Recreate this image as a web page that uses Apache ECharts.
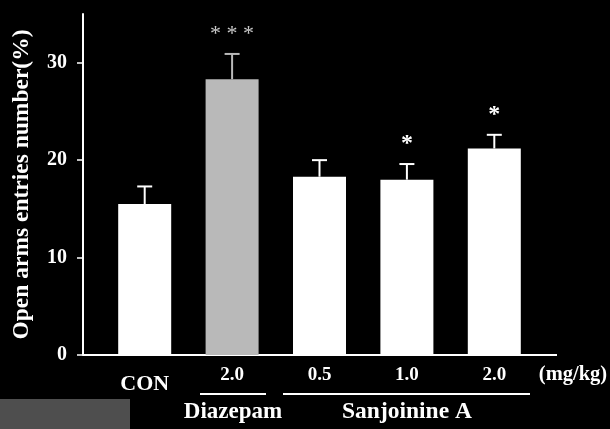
<!DOCTYPE html>
<html>
<head>
<meta charset="utf-8">
<script src="https://cdn.jsdelivr.net/npm/echarts@6/dist/echarts.min.js"></script>
<style>
  html, body { margin: 0; padding: 0; background: #000; }
  #chart { width: 610px; height: 429px; }
</style>
</head>
<body>
<div id="chart"></div>
<script>
const categories = ['CON', '2.0', '0.5', '1.0', '2.0']
const means = [15.5, 28.3, 18.3, 18.0, 21.2]
const errors = [1.8, 2.6, 1.7, 1.6, 1.4]
const stars = ['', '* * *', '', '*', '*']
const yTicks = [0, 10, 20, 30]

const serif = '"Liberation Serif", "DejaVu Serif", serif'

const chart = echarts.init(document.getElementById('chart'))

const barColor = (i) => (i === 1 ? '#b9b9b9' : '#ffffff')

const option = {
  backgroundColor: '#000',
  animation: false,
  grid: {
    left: 101,
    right: 72,
    top: 14,
    bottom: 74,
  },
  xAxis: {
    type: 'category',
    data: categories,
    axisLine: { show: false },
    axisTick: { show: false },
    axisLabel: {
      margin: 12,
      color: '#fff',
      fontFamily: serif,
      fontWeight: 'bold',
      formatter: (value, idx) => (idx === 0 ? '{big|' + value + '}' : '{small|' + value + '}'),
      rich: {
        big: { fontSize: 22, lineHeight: 34, fontFamily: serif, fontWeight: 'bold', color: '#fff' },
        small: { fontSize: 19, lineHeight: 16, fontFamily: serif, fontWeight: 'bold', color: '#fff' },
      },
    },
  },
  yAxis: {
    type: 'value',
    min: 0,
    max: 35,
    offset: 18,
    name: 'Open arms entries number(%)',
    nameLocation: 'middle',
    nameGap: 49,
    nameTextStyle: {
      color: '#fff',
      fontFamily: serif,
      fontWeight: 'bold',
      fontSize: 23.5,
    },
    axisLine: { show: true, lineStyle: { color: '#fff', width: 2 } },
    axisTick: { show: true, length: 6, lineStyle: { color: '#fff', width: 1.5 }, customValues: yTicks },
    axisLabel: {
      margin: 16,
      color: '#fff',
      fontFamily: serif,
      fontWeight: 'bold',
      fontSize: 20,
      customValues: yTicks,
    },
    splitLine: { show: false },
  },
  series: [
    {
      type: 'bar',
      data: means.map((v, i) => ({ value: v, itemStyle: { color: barColor(i) } })),
      barWidth: 53,
    },
    {
      type: 'custom',
      data: means.map((v, i) => [i, v, errors[i]]),
      renderItem: (params, api) => {
        const i = api.value(0)
        const mean = api.value(1)
        const err = api.value(2)
        const base = api.coord([i, mean])
        const top = api.coord([i, mean + err])
        const cap = 7.5
        const star = stars[i]
        const children = [
          {
            type: 'line',
            shape: { x1: base[0], y1: base[1], x2: top[0], y2: top[1] },
            style: { stroke: barColor(i), lineWidth: 2 },
          },
          {
            type: 'line',
            shape: { x1: top[0] - cap, y1: top[1], x2: top[0] + cap, y2: top[1] },
            style: { stroke: barColor(i), lineWidth: 2 },
          },
        ]
        if (star) {
          const multi = star.length > 1
          children.push({
            type: 'text',
            style: {
              x: top[0],
              y: top[1] - 20,
              text: star,
              fill: multi ? '#c8c8c8' : '#fff',
              font: (multi ? 'normal 22px ' : 'bold 24px ') + serif,
              align: 'center',
              verticalAlign: 'middle',
            },
          })
        }
        return { type: 'group', children }
      },
      z: 3,
    },
  ],
  graphic: [
    {
      type: 'line',
      shape: { x1: 83, y1: 355, x2: 557, y2: 355 },
      style: { stroke: '#fff', lineWidth: 2 },
    },
    {
      type: 'text',
      style: {
        x: 573, y: 375, text: '(mg/kg)', fill: '#fff',
        font: 'bold 20.5px ' + serif, align: 'center', verticalAlign: 'middle',
      },
    },
    {
      type: 'line',
      shape: { x1: 200, y1: 394, x2: 266, y2: 394 },
      style: { stroke: '#fff', lineWidth: 2 },
    },
    {
      type: 'line',
      shape: { x1: 283, y1: 394, x2: 530, y2: 394 },
      style: { stroke: '#fff', lineWidth: 2 },
    },
    {
      type: 'text',
      style: {
        x: 233, y: 412, text: 'Diazepam', fill: '#fff',
        font: 'bold 23px ' + serif, align: 'center', verticalAlign: 'middle',
      },
    },
    {
      type: 'text',
      style: {
        x: 407, y: 412, text: 'Sanjoinine A', fill: '#fff',
        font: 'bold 23.5px ' + serif, align: 'center', verticalAlign: 'middle',
      },
    },
    {
      type: 'rect',
      shape: { x: 0, y: 399, width: 130, height: 30 },
      style: { fill: '#4e4e4e' },
      z: -1,
    },
  ],
}

chart.setOption(option)
</script>
</body>
</html>
